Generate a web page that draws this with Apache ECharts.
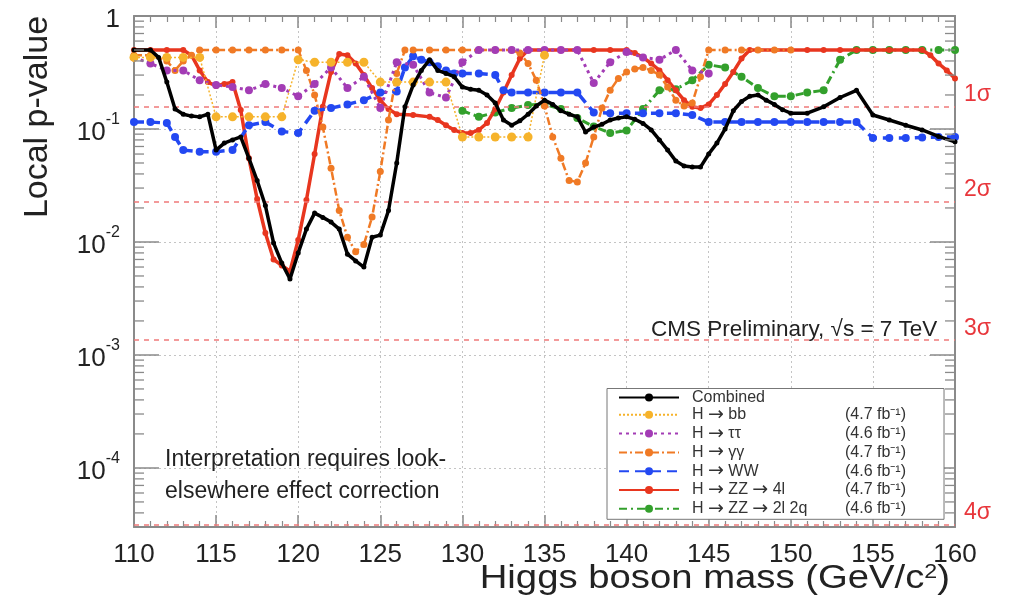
<!DOCTYPE html>
<html>
<head>
<meta charset="utf-8">
<script src="https://cdn.jsdelivr.net/npm/echarts@6/dist/echarts.min.js"></script>
<style>html,body{margin:0;padding:0;background:#fff}#c{width:1013px;height:606px}</style>
</head>
<body>
<div id="c"></div>
<script>
const FONT = '"Liberation Sans", Arial, sans-serif';

const xTicks = [110, 115, 120, 125, 130, 135, 140, 145, 150, 155, 160];
const yDecadeLabels = ['1', '10^-1', '10^-2', '10^-3', '10^-4'];

const seriesNames = ['Combined', 'H \u2192 bb', 'H \u2192 \u03c4\u03c4', 'H \u2192 \u03b3\u03b3', 'H \u2192 WW', 'H \u2192 ZZ \u2192 4l', 'H \u2192 ZZ \u2192 2l 2q'];
const lumiLabels = ['', '(4.7 fb\u207b\u00b9)', '(4.6 fb\u207b\u00b9)', '(4.7 fb\u207b\u00b9)', '(4.6 fb\u207b\u00b9)', '(4.7 fb\u207b\u00b9)', '(4.6 fb\u207b\u00b9)'];

const sigmaP = [0.1587, 0.02275, 0.00135, 3.167e-5];
const sigmaLabels = ['1\u03c3', '2\u03c3', '3\u03c3', '4\u03c3'];

const combined = [[110,0.5],[111,0.5],[111.5,0.43],[112,0.26],[112.5,0.15],[113,0.135],[113.5,0.13],[114,0.128],[114.5,0.135],[115,0.065],[115.5,0.075],[116,0.08],[116.5,0.085],[117,0.055],[117.5,0.035],[118,0.021],[118.5,0.0098],[119,0.0065],[119.5,0.0047],[120,0.008],[120.5,0.013],[121,0.018],[121.5,0.0165],[122,0.015],[122.5,0.013],[123,0.0078],[123.5,0.0068],[124,0.006],[124.5,0.011],[125,0.0115],[125.5,0.019],[126,0.05],[126.5,0.157],[127,0.245],[127.5,0.33],[128,0.41],[128.5,0.33],[129,0.31],[129.5,0.29],[130,0.235],[130.5,0.225],[131,0.22],[131.5,0.2],[132,0.17],[132.5,0.12],[133,0.108],[133.5,0.118],[134,0.135],[134.5,0.16],[135,0.18],[135.5,0.165],[136,0.145],[136.5,0.135],[137,0.128],[137.5,0.094],[138,0.104],[138.5,0.11],[139,0.12],[139.5,0.125],[140,0.128],[140.5,0.122],[141,0.112],[141.5,0.098],[142,0.08],[142.5,0.065],[143,0.052],[143.5,0.047],[144,0.046],[144.5,0.046],[145,0.06],[145.5,0.075],[146,0.1],[146.5,0.145],[147,0.175],[147.5,0.195],[148,0.2],[148.5,0.18],[149,0.165],[149.5,0.148],[150,0.138],[151,0.138],[152,0.157],[153,0.19],[154,0.22],[155,0.133],[156,0.12],[157,0.108],[158,0.098],[159,0.086],[160,0.077]];

const hbb = [[110,0.43],[111,0.43],[112,0.43],[113,0.43],[114,0.43],[115,0.128],[116,0.128],[117,0.128],[118,0.128],[119,0.128],[120,0.41],[121,0.39],[122,0.39],[123,0.39],[124,0.39],[125,0.26],[126,0.26],[127,0.26],[128,0.26],[129,0.26],[130,0.085],[131,0.085],[132,0.085],[133,0.085],[134,0.085],[135,0.45]];

const htautau = [[110,0.43],[111,0.38],[112,0.33],[113,0.33],[114,0.27],[115,0.245],[116,0.235],[117,0.22],[118,0.25],[119,0.23],[120,0.195],[121,0.25],[122,0.35],[123,0.23],[124,0.29],[125,0.153],[126,0.39],[127,0.37],[128,0.21],[129,0.19],[130,0.39],[131,0.5],[132,0.5],[133,0.5],[134,0.5],[135,0.5],[136,0.5],[137,0.5],[138,0.255],[139,0.39],[140,0.48],[141,0.43],[142,0.41],[143,0.5],[144,0.33],[145,0.31]];

const hgg = [[110,0.45],[111,0.45],[112,0.4],[112.5,0.33],[113,0.4],[113.5,0.45],[114,0.5],[115,0.5],[116,0.5],[117,0.5],[118,0.5],[119,0.5],[120,0.5],[120.5,0.33],[121,0.2],[121.5,0.104],[122,0.045],[122.5,0.019],[123,0.011],[123.5,0.0082],[124,0.0095],[124.5,0.0166],[125,0.042],[125.5,0.12],[126,0.31],[126.5,0.5],[127,0.5],[128,0.5],[129,0.5],[130,0.5],[131,0.5],[132,0.5],[133,0.5],[133.5,0.47],[134,0.38],[134.5,0.27],[135,0.16],[135.5,0.085],[136,0.055],[136.5,0.035],[137,0.034],[137.5,0.05],[138,0.085],[138.5,0.153],[139,0.22],[139.5,0.28],[140,0.32],[140.5,0.34],[141,0.35],[141.5,0.33],[142,0.3],[142.5,0.235],[143,0.18],[143.5,0.16],[144,0.17],[144.5,0.29],[145,0.5],[146,0.5],[147,0.5],[148,0.5],[149,0.5],[150,0.5]];

const hww = [[110,0.115],[111,0.115],[112,0.113],[112.5,0.085],[113,0.065],[114,0.063],[115,0.063],[116,0.065],[117,0.108],[118,0.115],[119,0.095],[120,0.092],[121,0.145],[122,0.153],[123,0.165],[124,0.18],[125,0.21],[126,0.215],[126.5,0.35],[127,0.44],[127.5,0.41],[128,0.39],[128.5,0.36],[129,0.33],[129.5,0.31],[130,0.31],[131,0.31],[132,0.3],[132.5,0.22],[133,0.21],[134,0.21],[135,0.21],[136,0.21],[137,0.21],[138,0.14],[139,0.138],[140,0.138],[141,0.138],[142,0.138],[143,0.138],[144,0.133],[145,0.115],[146,0.115],[147,0.115],[148,0.115],[149,0.115],[150,0.115],[151,0.115],[152,0.115],[153,0.115],[154,0.115],[155,0.083],[156,0.083],[157,0.083],[158,0.084],[159,0.085],[160,0.085]];

const hzz4l = [[110,0.5],[111,0.5],[112,0.5],[113,0.5],[113.5,0.45],[114,0.33],[114.5,0.26],[115,0.24],[115.5,0.25],[116,0.26],[116.5,0.147],[117,0.055],[117.5,0.024],[118,0.012],[118.5,0.007],[119,0.0062],[119.5,0.0055],[120,0.0104],[120.5,0.0235],[121,0.06],[121.5,0.157],[122,0.32],[122.5,0.46],[123,0.45],[123.5,0.38],[124,0.3],[124.5,0.23],[125,0.18],[125.5,0.15],[126,0.135],[127,0.133],[128,0.128],[128.5,0.12],[129,0.108],[129.5,0.098],[130,0.092],[130.5,0.092],[131,0.098],[131.5,0.113],[132,0.15],[132.5,0.21],[133,0.3],[133.5,0.42],[134,0.5],[135,0.5],[136,0.5],[137,0.5],[138,0.5],[139,0.5],[140,0.5],[140.5,0.47],[141,0.43],[141.5,0.38],[142,0.33],[142.5,0.27],[143,0.22],[143.5,0.18],[144,0.157],[144.5,0.153],[145,0.165],[145.5,0.2],[146,0.25],[146.5,0.32],[147,0.42],[147.5,0.5],[148,0.5],[149,0.5],[150,0.5],[151,0.5],[152,0.5],[153,0.5],[154,0.5],[155,0.5],[156,0.5],[157,0.5],[158,0.5],[158.5,0.45],[159,0.38],[159.5,0.33],[160,0.28]];

const hzz2l2q = [[130,0.145],[131,0.128],[132,0.14],[133,0.153],[134,0.163],[135,0.165],[136,0.15],[137,0.125],[138,0.105],[139,0.092],[140,0.097],[141,0.15],[142,0.22],[143,0.225],[144,0.27],[145,0.37],[146,0.35],[147,0.29],[148,0.23],[149,0.195],[150,0.195],[151,0.21],[152,0.22],[153,0.41],[154,0.5],[155,0.5],[156,0.5],[157,0.5],[158,0.5],[159,0.5],[160,0.5]];

const yMin = 3.0e-5, yMax = 1, xMin = 110, xMax = 160;

// log-distributed minor tick positions (axis decoration)
const yMinorTicks = [];
for (let k = -5; k <= -1; k++) for (let d = 2; d <= 9; d++) {
  const v = d * Math.pow(10, k);
  if (v > yMin && v < yMax) yMinorTicks.push([xMin, v]);
}

// legend text layout: measure name widths to align the luminosity column
const LEG_FS = 16;
const measureCtx = document.createElement('canvas').getContext('2d');
function textW(t, font) { measureCtx.font = font; return measureCtx.measureText(t).width; }
const ARROW_FONT = '"DejaVu Sans", sans-serif';
const ARROW_FS = 19;
const NAME_COL = 153;
const LH = 19;
const legendRich = {
  n: {fontFamily: FONT, fontSize: LEG_FS, color: '#333', lineHeight: LH},
  r: {fontFamily: ARROW_FONT, fontSize: ARROW_FS, color: '#333', lineHeight: LH},
  b: {fontFamily: FONT, fontSize: LEG_FS, color: '#333', lineHeight: LH},
  lead: {width: 8, lineHeight: LH, fontSize: 1}
};
seriesNames.forEach(function (name, i) {
  const parts = name.split('\u2192');
  let w = 0;
  parts.forEach(function (p, j) {
    w += textW(p, LEG_FS + 'px ' + FONT);
    if (j < parts.length - 1) w += textW('\u2192', ARROW_FS + 'px ' + ARROW_FONT);
  });
  legendRich['p' + i] = {width: Math.max(2, NAME_COL - w), lineHeight: LH, fontSize: 1};
});
function legendFormatter(name) {
  const i = seriesNames.indexOf(name);
  const parts = name.split('\u2192');
  let s = '{lead| }';
  parts.forEach(function (p, j) {
    s += '{n|' + p + '}';
    if (j < parts.length - 1) s += '{r|\u2192}';
  });
  s += '{p' + i + '| }';
  if (lumiLabels[i]) s += '{b|' + lumiLabels[i] + '}';
  return s;
}

const chart = echarts.init(document.getElementById('c'), null, {renderer: 'canvas'});

function lineSeries(idx, data, color, width, type, symbolSize, z) {
  return {
    name: seriesNames[idx], type: 'line', data: data, z: z,
    xAxisIndex: 0, yAxisIndex: 0,
    symbol: 'circle', symbolSize: symbolSize, showSymbol: true,
    lineStyle: {color: color, width: width, type: type},
    itemStyle: {color: color},
    emphasis: {disabled: true}, animation: false
  };
}

const axisGray = '#8a8a8a';
const yLabelFmt = function (v) {
  const l = Math.log10(v);
  const e = Math.round(l);
  if (Math.abs(l - e) > 1e-6) return '';
  const t = yDecadeLabels[-e];
  if (!t) return '';
  if (t.indexOf('^') < 0) return '{b|' + t + '}';
  const parts = t.split('^');
  return '{b|' + parts[0] + '}{s|' + parts[1] + '}';
};

const option = {
  backgroundColor: '#fff',
  animation: false,
  grid: {left: 134, right: 58, top: 16, bottom: 79, containLabel: false},
  xAxis: [
    {type: 'value', min: xMin, max: xMax, interval: 5, position: 'bottom',
      axisLine: {show: true, lineStyle: {color: axisGray, width: 2}},
      axisTick: {show: true, inside: true, length: 12, lineStyle: {color: axisGray, width: 1.5}},
      minorTick: {show: true, splitNumber: 5, length: 6, lineStyle: {color: axisGray, width: 1.2}},
      axisLabel: {show: true, margin: 15, fontSize: 26, fontFamily: FONT, color: '#222',
        formatter: function (v) { return xTicks.indexOf(v) >= 0 ? String(v) : ''; }},
      splitLine: {show: true, lineStyle: {color: '#c4c4c4', type: [2, 3], width: 1}}
    },
    {type: 'value', min: xMin, max: xMax, interval: 5, position: 'top',
      axisLine: {show: true, lineStyle: {color: axisGray, width: 2}},
      axisTick: {show: true, inside: true, length: 12, lineStyle: {color: axisGray, width: 1.5}},
      minorTick: {show: true, splitNumber: 5, length: 6, lineStyle: {color: axisGray, width: 1.2}},
      axisLabel: {show: false}, splitLine: {show: false}
    }
  ],
  yAxis: [
    {type: 'log', min: yMin, max: yMax, logBase: 10, position: 'left',
      axisLine: {show: true, lineStyle: {color: axisGray, width: 2}},
      axisTick: {show: true, inside: true, length: 25, lineStyle: {color: axisGray, width: 1.5}},
      axisLabel: {show: true, margin: 14, formatter: yLabelFmt,
        rich: {
          b: {fontSize: 26, fontFamily: FONT, color: '#222', verticalAlign: 'bottom', lineHeight: 34},
          s: {fontSize: 16, fontFamily: FONT, color: '#222', verticalAlign: 'top', lineHeight: 14}
        }},
      splitLine: {show: true, lineStyle: {color: '#c4c4c4', type: [2, 3], width: 1}}
    },
    {type: 'log', min: yMin, max: yMax, logBase: 10, position: 'right',
      axisLine: {show: true, lineStyle: {color: axisGray, width: 2}},
      axisTick: {show: true, inside: true, length: 25, lineStyle: {color: axisGray, width: 1.5}},
      axisLabel: {show: false}, splitLine: {show: false}
    }
  ],
  legend: {
    orient: 'vertical', left: 607, top: 388.5,
    data: seriesNames,
    itemWidth: 60, itemHeight: 10, itemGap: -0.2,
    padding: [1, 38, 1, 11],
    backgroundColor: '#fff', borderColor: '#777', borderWidth: 1,
    selectedMode: false,
    textStyle: {fontFamily: FONT, fontSize: LEG_FS, color: '#333', rich: legendRich},
    formatter: legendFormatter
  },
  graphic: [
    {type: 'text', x: 38, y: 117, rotation: Math.PI / 2, z: 100,
      style: {text: 'Local p-value', font: '34px ' + FONT, fill: '#222', align: 'center', verticalAlign: 'middle'}},
    {type: 'text', x: 950, y: 579, z: 100, scaleX: 1.16,
      style: {text: 'Higgs boson mass (GeV/c{s|2})', font: '33px ' + FONT, fill: '#222', align: 'right', verticalAlign: 'middle',
        rich: {s: {fontSize: 20, fontFamily: FONT, fill: '#222', verticalAlign: 'top', lineHeight: 14}}}},
    {type: 'text', x: 651, y: 330, z: 100,
      style: {text: 'CMS Preliminary, \u221as = 7 TeV', font: '22.5px ' + FONT, fill: '#222', verticalAlign: 'middle'}},
    {type: 'text', x: 165, y: 476, z: 100,
      style: {text: 'Interpretation requires look-\nelsewhere effect correction', font: '23px ' + FONT, fill: '#222', verticalAlign: 'middle', lineHeight: 32}}
  ],
  series: [
    lineSeries(0, combined, '#000000', 3.5, 'solid', 5, 9),
    lineSeries(1, hbb, '#F6B32B', 1.5, [2, 2], 9, 8),
    lineSeries(2, htautau, '#A33CB5', 3, [3, 4], 8, 7),
    lineSeries(3, hgg, '#F07A25', 2.5, [8, 3, 2, 3], 7, 6),
    lineSeries(4, hww, '#2348F2', 3.5, [10, 6], 8, 5),
    lineSeries(5, hzz4l, '#E8361F', 3.5, 'solid', 6, 4),
    lineSeries(6, hzz2l2q, '#33A02C', 3, [8, 4, 2, 4], 8, 3),
    {
      name: 'sigma', type: 'line', data: [], z: 1, silent: true,
      markLine: {
        silent: true, symbol: ['none', 'none'], animation: false, precision: 10,
        lineStyle: {color: '#F07A7A', type: [5, 5], width: 1.5},
        label: {show: true, position: 'end', distance: 9,
          formatter: function (p) { return '{t|' + sigmaLabels[p.dataIndex] + '}\n{g| }'; },
          rich: {
            t: {color: '#E8363B', fontSize: 23, fontFamily: FONT, lineHeight: 24},
            g: {fontSize: 1, lineHeight: 24}
          }},
        data: sigmaP.map(function (v) { return {yAxis: v}; })
      }
    },
    {
      name: 'minorTicks', type: 'custom', data: yMinorTicks, z: 10, silent: true,
      xAxisIndex: 0, yAxisIndex: 0,
      renderItem: function (params, api) {
        const v = api.value(1);
        const pl = api.coord([xMin, v]);
        const pr = api.coord([xMax, v]);
        return {type: 'group', children: [
          {type: 'line', shape: {x1: pl[0], y1: pl[1], x2: pl[0] + 10, y2: pl[1]}, style: {stroke: axisGray, lineWidth: 1.3}},
          {type: 'line', shape: {x1: pr[0] - 10, y1: pr[1], x2: pr[0], y2: pr[1]}, style: {stroke: axisGray, lineWidth: 1.3}}
        ]};
      }
    }
  ]
};
chart.setOption(option);
</script>
</body>
</html>
